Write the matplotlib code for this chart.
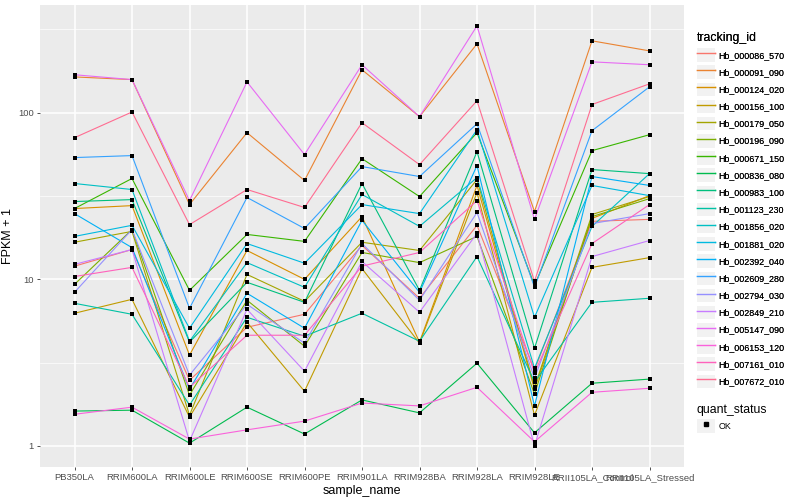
import matplotlib
matplotlib.use("Agg")
import matplotlib.pyplot as plt
from matplotlib.patches import Rectangle
from matplotlib.lines import Line2D
from matplotlib.ticker import FixedLocator, NullFormatter

plt.rcParams["font.family"] = ["Liberation Sans", "DejaVu Sans"]

samples = ["PB350LA", "RRIM600LA", "RRIM600LE", "RRIM600SE", "RRIM600PE",
           "RRIM901LA", "RRIM928BA", "RRIM928LA", "RRIM928LE",
           "RRII105LA_Control", "RRII105LA_Stressed"]

# FPKM + 1 per transcript, one value per sample
hb_000086_570 = [12.0, 15.1, 2.48, 5.16, 6.17, 16.0, 7.70, 21.1, 2.85, 22.3, 22.9]
hb_000091_090 = [164, 158, 28.1, 75.9, 39.2, 181, 94.7, 259, 25.5, 270, 235]
hb_000124_020 = [26.6, 27.7, 3.51, 14.9, 10.0, 23.8, 4.20, 36.6, 2.19, 23.2, 31.8]
hb_000156_100 = [6.26, 7.59, 1.49, 5.53, 2.13, 11.6, 4.14, 33.2, 1.53, 11.8, 13.5]
hb_000179_050 = [16.7, 19.4, 1.53, 10.7, 7.38, 16.7, 14.9, 39.7, 2.25, 24.5, 31.4]
hb_000196_090 = [9.33, 19.9, 2.02, 7.49, 3.97, 14.5, 12.6, 18.1, 2.05, 23.8, 30.5]
hb_000671_150 = [26.6, 40.3, 8.59, 18.6, 16.9, 53.0, 31.4, 75.9, 9.20, 59.2, 73.8]
hb_000836_080 = [1.62, 1.64, 1.04, 1.71, 1.18, 1.89, 1.58, 3.14, 1.20, 2.38, 2.52]
hb_000983_100 = [29.3, 30.1, 4.20, 9.60, 7.28, 37.6, 8.59, 58.4, 3.86, 45.6, 43.1]
hb_001123_230 = [7.18, 6.17, 1.76, 5.92, 4.56, 6.26, 4.25, 13.7, 2.42, 7.28, 7.70]
hb_001856_020 = [37.6, 34.6, 4.25, 12.6, 8.96, 32.3, 20.8, 40.8, 2.93, 20.8, 43.1]
hb_001881_020 = [18.1, 21.1, 5.09, 16.4, 12.5, 28.1, 24.8, 79.1, 5.92, 36.6, 31.8]
hb_002392_040 = [24.8, 15.5, 2.19, 8.25, 5.09, 22.6, 8.36, 48.2, 1.74, 41.4, 36.6]
hb_002609_280 = [53.8, 55.3, 6.70, 31.0, 20.2, 47.5, 41.4, 85.9, 8.96, 78.0, 143]
hb_002794_030 = [8.36, 19.9, 2.66, 7.08, 4.14, 16.4, 7.49, 25.2, 2.55, 21.6, 24.8]
hb_002849_210 = [12.3, 15.1, 1.07, 6.61, 2.81, 12.8, 6.35, 18.9, 1.00, 13.7, 17.1]
hb_005147_090 = [169, 158, 29.7, 153, 56.1, 194, 94.7, 332, 22.9, 202, 194]
hb_006153_120 = [1.55, 1.71, 1.10, 1.25, 1.41, 1.81, 1.74, 2.25, 1.06, 2.10, 2.22]
hb_007161_010 = [10.4, 11.8, 2.25, 4.62, 4.62, 12.0, 14.5, 29.7, 2.74, 16.4, 28.1]
hb_007672_010 = [70.8, 101, 21.3, 34.6, 27.0, 87.1, 48.8, 118, 9.73, 112, 149]

tracking_ids = ["Hb_000086_570", "Hb_000091_090", "Hb_000124_020", "Hb_000156_100",
                "Hb_000179_050", "Hb_000196_090", "Hb_000671_150", "Hb_000836_080",
                "Hb_000983_100", "Hb_001123_230", "Hb_001856_020", "Hb_001881_020",
                "Hb_002392_040", "Hb_002609_280", "Hb_002794_030", "Hb_002849_210",
                "Hb_005147_090", "Hb_006153_120", "Hb_007161_010", "Hb_007672_010"]
series = [hb_000086_570, hb_000091_090, hb_000124_020, hb_000156_100,
          hb_000179_050, hb_000196_090, hb_000671_150, hb_000836_080,
          hb_000983_100, hb_001123_230, hb_001856_020, hb_001881_020,
          hb_002392_040, hb_002609_280, hb_002794_030, hb_002849_210,
          hb_005147_090, hb_006153_120, hb_007161_010, hb_007672_010]

# ggplot2 hue palette, 20 levels
colors = ["#F8766D", "#EA8331", "#D89000", "#C09B00", "#A3A500", "#7CAE00",
          "#39B600", "#00BB4E", "#00BF7D", "#00C1A3", "#00BFC4", "#00BAE0",
          "#00B0F6", "#35A2FF", "#9590FF", "#C77CFF", "#E76BF3", "#FA62DB",
          "#FF62BC", "#FF6C91"]

fig = plt.figure(figsize=(8, 5), dpi=100)
ax = fig.add_axes([0.05, 0.066, 0.805, 0.924])
ax.set_facecolor("#EBEBEB")

x = list(range(len(samples)))
for vals, col in zip(series, colors):
    ax.plot(x, vals, color=col, lw=0.8, zorder=2)
for vals in series:
    ax.scatter(x, vals, marker="s", s=7, color="black", zorder=3, linewidths=0)

ax.set_yscale("log")
ax.set_ylim(0.748, 443)
ax.set_xlim(-0.6, len(samples) - 0.4)
ax.yaxis.set_major_locator(FixedLocator([1, 10, 100]))
ax.set_yticklabels(["1", "10", "100"])
ax.yaxis.set_minor_locator(FixedLocator([10 ** 0.5, 10 ** 1.5, 10 ** 2.5]))
ax.yaxis.set_minor_formatter(NullFormatter())
ax.set_xticks(x)
ax.set_xticklabels(samples)

ax.grid(True, which="major", color="white", lw=1.1, zorder=0)
ax.grid(True, which="minor", axis="y", color="white", lw=0.5, zorder=0)
ax.set_axisbelow(True)
for s in ax.spines.values():
    s.set_visible(False)
ax.tick_params(axis="both", which="major", length=2.5, width=0.6, color="#333333",
               labelcolor="#4D4D4D", labelsize=6.8, pad=2)
ax.tick_params(axis="y", which="minor", length=0)

ax.set_xlabel("sample_name", fontsize=9, labelpad=2)
ax.set_ylabel("FPKM + 1", fontsize=9, labelpad=3)

# legends
handles = [(Rectangle((0, 0), 1, 1, fc="#F2F2F2", ec="none"),
            Line2D([], [], color=c, lw=1.0)) for c in colors]
leg1 = fig.legend(handles, tracking_ids, loc="upper left",
                  bbox_to_anchor=(0.871, 0.935), frameon=False,
                  title="tracking_id", title_fontsize=8.8, fontsize=6.4,
                  handlelength=2.0, handleheight=1.95, labelspacing=0.42,
                  handletextpad=0.4, borderaxespad=0, borderpad=0,
                  alignment="left")
fig.add_artist(leg1)

qhandle = [(Rectangle((0, 0), 1, 1, fc="#F2F2F2", ec="none"),
            Line2D([], [], marker="s", ls="none", color="black", markersize=2.6))]
fig.legend(qhandle, ["OK"], loc="upper left", bbox_to_anchor=(0.871, 0.193),
           frameon=False, title="quant_status", title_fontsize=8.8, fontsize=6.4,
           handlelength=2.0, handleheight=1.95, labelspacing=0.42,
           handletextpad=0.4, borderaxespad=0, borderpad=0, alignment="left")

fig.savefig("out.png", dpi=100)
